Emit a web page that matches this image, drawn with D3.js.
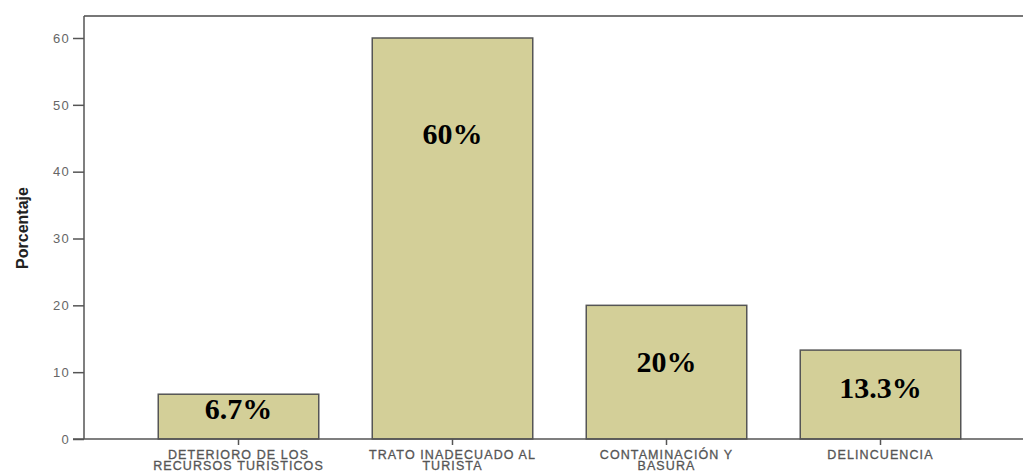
<!DOCTYPE html>
<html>
<head>
	<script src="https://d3js.org/d3.v7.min.js"></script>
	<style>
		body { margin: 0; background: #fff; }
	</style>
</head>
<body>
	<div class="chart"></div>
	<script>
		// data
		var categories = [
			["DETERIORO DE LOS", "RECURSOS TURISTICOS"],
			["TRATO INADECUADO AL", "TURISTA"],
			["CONTAMINACIÓN Y", "BASURA"],
			["DELINCUENCIA"]
		];
		var values = [6.7, 60, 20, 13.3];
		var valueLabels = ["6.7%", "60%", "20%", "13.3%"];
		var yTicks = [0, 10, 20, 30, 40, 50, 60];

		var w = 1023, h = 471;
		var padL = 84, padT = 16, base = 439;

		var svg = d3.select(".chart")
			.append("svg")
			.attr("width", w)
			.attr("height", h);

		var x = d3.scaleBand()
			.domain(d3.range(categories.length))
			.range([131.5, 987.5])
			.paddingInner(0.25)
			.paddingOuter(0.125);

		var y = d3.scaleLinear()
			.domain([0, 60])
			.range([base, 38]);

		// frame: top line runs off the right edge
		svg.append("line")
			.attr("x1", padL).attr("x2", w)
			.attr("y1", padT).attr("y2", padT)
			.attr("stroke", "#777").attr("stroke-width", 2);

		// bars
		svg.append("g")
			.selectAll("rect")
			.data(values)
			.enter()
			.append("rect")
			.attr("x", function(d, i) { return x(i); })
			.attr("y", function(d) { return y(d); })
			.attr("width", x.bandwidth())
			.attr("height", function(d) { return y(0) - y(d); })
			.attr("fill", "#d3cf98")
			.attr("stroke", "#555")
			.attr("stroke-width", 1.5);

		// y axis
		var yAxis = svg.append("g")
			.attr("transform", "translate(" + padL + ",0)")
			.call(d3.axisLeft(y).tickValues(yTicks).tickSize(11).tickPadding(3));
		yAxis.select(".domain").attr("d", "M0," + padT + "V" + base).attr("stroke", "#555").attr("stroke-width", 1.5);
		yAxis.selectAll(".tick line").attr("stroke", "#555").attr("stroke-width", 1.5);
		yAxis.selectAll(".tick text")
			.attr("fill", "#666")
			.attr("font-family", "Liberation Sans, Arial, sans-serif")
			.attr("font-size", "13px")
			.attr("letter-spacing", "1.3px");

		// x axis
		var xAxis = svg.append("g")
			.attr("transform", "translate(0," + base + ")")
			.call(d3.axisBottom(x).tickSize(6).tickFormat(""));
		xAxis.select(".domain").attr("d", "M" + (padL - 11) + ",0H" + w).attr("stroke", "#555").attr("stroke-width", 1.5);
		xAxis.selectAll(".tick line").attr("stroke", "#555").attr("stroke-width", 1.5);

		// category labels, two lines each
		var catText = svg.append("g")
			.selectAll("text")
			.data(categories)
			.enter()
			.append("text")
			.attr("text-anchor", "middle")
			.attr("fill", "#555")
			.attr("stroke", "#555")
			.attr("stroke-width", 0.3)
			.attr("font-family", "Liberation Sans, Arial, sans-serif")
			.attr("font-size", "12.5px")
			.attr("letter-spacing", "1.1px");
		catText.each(function(d, i) {
			var t = d3.select(this);
			d.forEach(function(line, j) {
				t.append("tspan")
					.attr("x", x(i) + x.bandwidth() / 2)
					.attr("y", 459 + j * 10.5)
					.text(line);
			});
		});

		// value labels inside the bars
		var labelY = [409, 134, 362, 388];
		svg.append("g")
			.selectAll("text")
			.data(valueLabels)
			.enter()
			.append("text")
			.attr("x", function(d, i) { return x(i) + x.bandwidth() / 2; })
			.attr("y", function(d, i) { return labelY[i] + 10; })
			.attr("text-anchor", "middle")
			.attr("font-family", "Liberation Serif, Times New Roman, serif")
			.attr("font-weight", "bold")
			.attr("font-size", "30px")
			.attr("fill", "#000")
			.text(function(d) { return d; });

		// y title
		svg.append("text")
			.attr("transform", "translate(28,228) rotate(-90)")
			.attr("text-anchor", "middle")
			.attr("font-family", "Liberation Sans Narrow, Arial Narrow, sans-serif")
			.attr("font-weight", "bold")
			.attr("font-size", "16px")
			.attr("fill", "#222")
			.text("Porcentaje");
	</script>
</body>
</html>
